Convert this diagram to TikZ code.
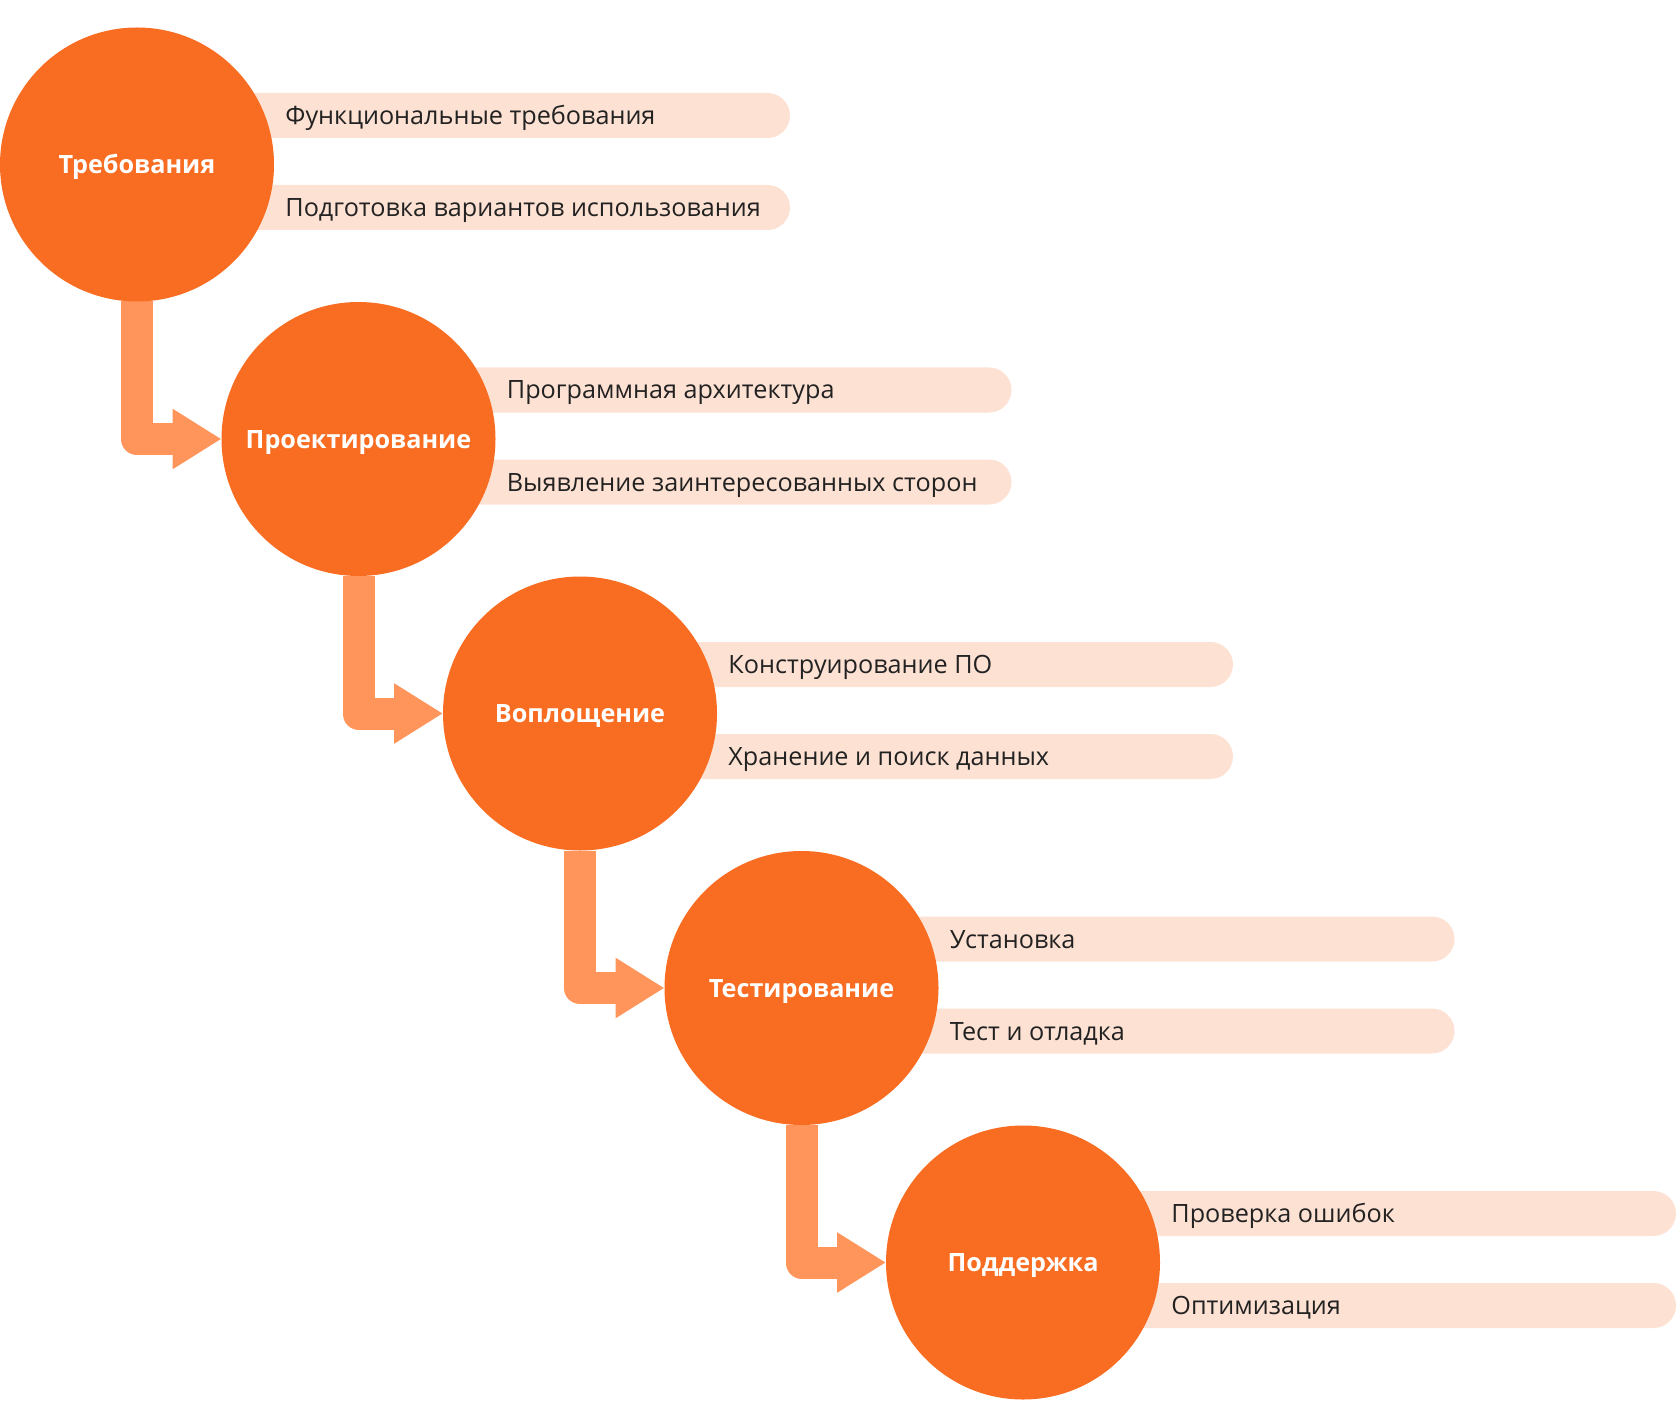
\documentclass[tikz,border=0pt]{standalone}
\usepackage{fontspec}
\setmainfont{Open Sans}
\usetikzlibrary{arrows.meta}
\usetikzlibrary{backgrounds}
\definecolor{stagec}{HTML}{F96D22}
\definecolor{flowc}{HTML}{FF955A}
\definecolor{pillc}{HTML}{FDE1D3}
\definecolor{textc}{HTML}{222222}
\tikzset{stage/.style = {circle, fill = stagec, minimum size = 137pt, inner sep = 0, outer sep = 0,
                         text = white, text height = 9pt, text depth = 0pt,
                         font = \fontsize{12.6}{15}\selectfont\bfseries}}
\tikzset{item/.style = {anchor = west, inner sep = 0, text = textc, text height = 9pt, text depth = 0pt,
                        font = \fontsize{12.6}{15}\selectfont}}
\tikzset{pill/.style = {fill = pillc, rounded corners = 11.25pt}}
\tikzset{flow/.style = {draw = flowc, line width = 16pt, line join = round,
                        -{Triangle[length = 24.5pt, width = 28.5pt]}}}

\begin{document}
\begin{tikzpicture}[x = 0.5pt, y = -0.5pt]
  \useasboundingbox (0, 0) rectangle (1680, 1428);

  \node [stage] (c1) at (137, 164.5) {Требования};
  \node [stage] (c2) at (358.5, 439) {Проектирование};
  \node [stage] (c3) at (580, 713.5) {Воплощение};
  \node [stage] (c4) at (801.5, 988) {Тестирование};
  \node [stage] (c5) at (1023, 1262.5) {Поддержка};

  \node [item] (r1a) at ([xshift = 5.5pt, yshift = 24.5pt] c1.east) {Функциональные требования};
  \node [item] (r1b) at ([xshift = 5.5pt, yshift = -21.5pt] c1.east) {Подготовка вариантов использования};
  \node [item] (r2a) at ([xshift = 5.5pt, yshift = 24.5pt] c2.east) {Программная архитектура};
  \node [item] (r2b) at ([xshift = 5.5pt, yshift = -21.5pt] c2.east) {Выявление заинтересованных сторон};
  \node [item] (r3a) at ([xshift = 5.5pt, yshift = 24.5pt] c3.east) {Конструирование ПО};
  \node [item] (r3b) at ([xshift = 5.5pt, yshift = -21.5pt] c3.east) {Хранение и поиск данных};
  \node [item] (r4a) at ([xshift = 5.5pt, yshift = 24.5pt] c4.east) {Установка};
  \node [item] (r4b) at ([xshift = 5.5pt, yshift = -21.5pt] c4.east) {Тест и отладка};
  \node [item] (r5a) at ([xshift = 5.5pt, yshift = 24.5pt] c5.east) {Проверка ошибок};
  \node [item] (r5b) at ([xshift = 5.5pt, yshift = -21.5pt] c5.east) {Оптимизация};

  \begin{scope}[on background layer]
    % pills run from the circle centre
    \fill [pill] (c1.center |- r1a.west) ++(0, -22.5) rectangle ++(653, 45);
    \fill [pill] (c1.center |- r1b.west) ++(0, -22.5) rectangle ++(653, 45);
    \fill [pill] (c2.center |- r2a.west) ++(0, -22.5) rectangle ++(653, 45);
    \fill [pill] (c2.center |- r2b.west) ++(0, -22.5) rectangle ++(653, 45);
    \fill [pill] (c3.center |- r3a.west) ++(0, -22.5) rectangle ++(653, 45);
    \fill [pill] (c3.center |- r3b.west) ++(0, -22.5) rectangle ++(653, 45);
    \fill [pill] (c4.center |- r4a.west) ++(0, -22.5) rectangle ++(653, 45);
    \fill [pill] (c4.center |- r4b.west) ++(0, -22.5) rectangle ++(653, 45);
    \fill [pill] (c5.center |- r5a.west) ++(0, -22.5) rectangle ++(653, 45);
    \fill [pill] (c5.center |- r5b.west) ++(0, -22.5) rectangle ++(653, 45);

    \draw [flow] (c1.south) |- (c2.west);
    \draw [flow] (c2.south) |- (c3.west);
    \draw [flow] (c3.south) |- (c4.west);
    \draw [flow] (c4.south) |- (c5.west);
  \end{scope}
\end{tikzpicture}
\end{document}
